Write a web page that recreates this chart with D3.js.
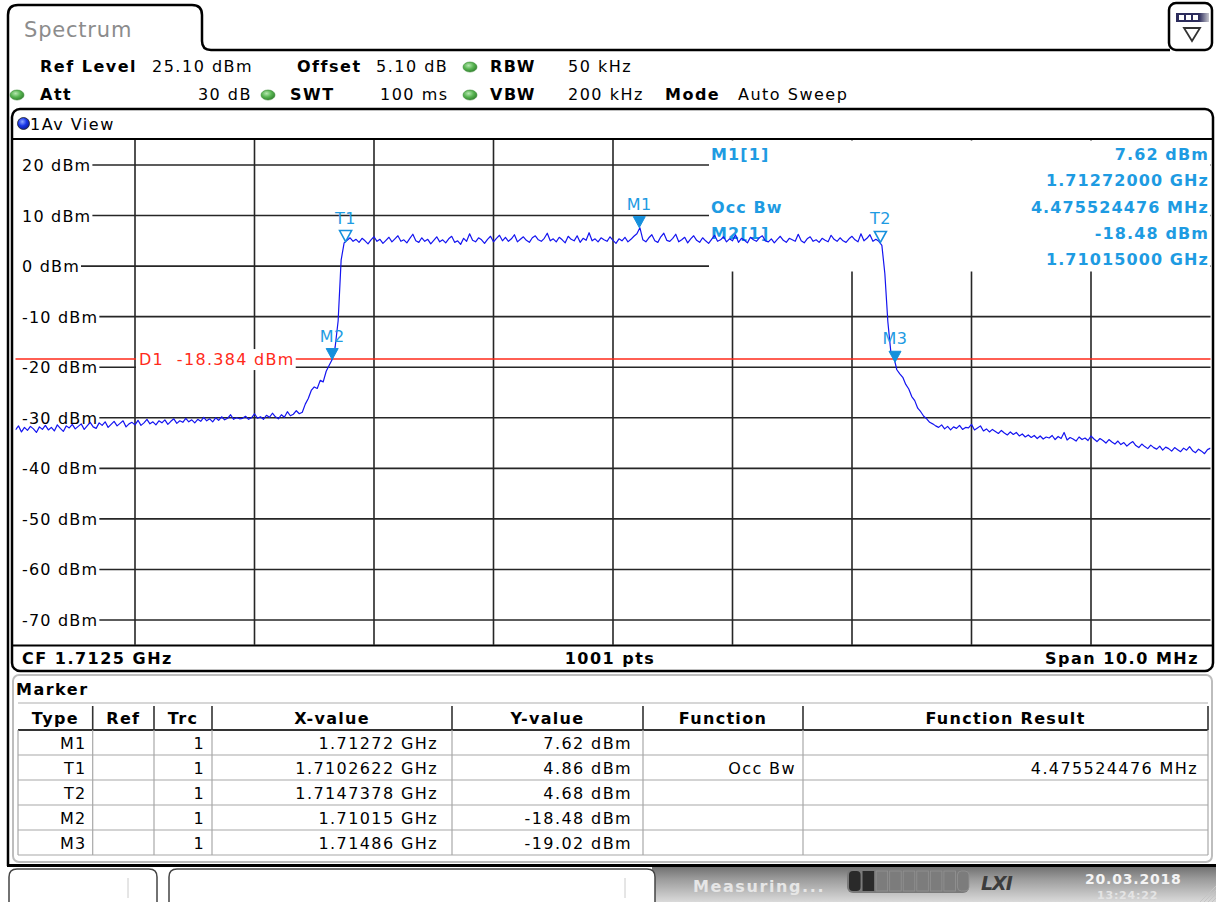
<!DOCTYPE html>
<html><head><meta charset="utf-8">
<script src="https://cdn.jsdelivr.net/npm/d3@7"></script>
<style>
html,body{margin:0;padding:0;background:#fff;overflow:hidden;}
svg text{font-family:"DejaVu Sans",Verdana,sans-serif;}
</style></head><body>
<svg id="c" width="1216" height="902"></svg>
<script>
// ---------------- DATA ----------------
const freqStartGHz = 1.7075;
const freqStopGHz = 1.7175;
const traceStepGHz = 0.000025;
const refLevelDbm = 25.1;
const bottomLevelDbm = -74.9;
const yTickValues = [20, 10, 0, -10, -20, -30, -40, -50, -60, -70];
const xDivisions = [1,2,3,4,5,6,7,8,9];
const displayLineDbm = -18.384;
const occBwMHz = "4.475524476";

// trace (dBm), one value per traceStepGHz starting at freqStartGHz
const traceDbm = [
-32.4,-31.6,-32.8,-31.9,-32.5,-31.7,-32.2,-32.9,-31.8,-32.3,
-31.5,-32.4,-31.9,-32.6,-31.4,-32.1,-32.7,-31.6,-32.0,-31.3,
-32.2,-31.7,-31.2,-32.3,-31.6,-30.9,-31.8,-32.1,-31.0,-31.5,
-30.8,-31.9,-31.3,-30.7,-31.6,-31.1,-30.6,-31.8,-31.2,-30.9,
-31.4,-30.5,-31.5,-31.0,-30.3,-31.2,-30.8,-31.4,-30.6,-31.0,
-30.4,-31.3,-30.7,-30.2,-31.1,-30.6,-30.9,-30.1,-30.8,-30.4,
-31.0,-30.3,-30.7,-29.9,-30.6,-30.2,-30.8,-30.0,-30.5,-29.8,
-30.4,-30.1,-29.4,-30.3,-30.0,-30.2,-30.1,-29.7,-30.3,-30.0,
-29.2,-30.1,-29.8,-30.3,-29.5,-29.9,-29.1,-29.8,-30.2,-29.4,
-29.9,-28.8,-29.6,-29.3,-28.6,-29.2,-28.9,-27.3,-26.2,-24.6,
-23.9,-24.2,-22.6,-22.9,-20.8,-19.6,-18.48,-16.0,-10.8,1.2,
4.6,5.1,5.6,4.9,5.3,4.7,5.5,5.0,4.4,5.2,
5.8,4.9,5.3,4.5,5.1,5.7,4.8,5.4,6.0,4.9,
5.2,4.6,5.5,6.3,5.0,4.7,5.6,4.9,5.3,4.4,
5.1,5.8,4.8,5.2,4.6,5.4,5.9,4.7,5.0,4.3,
5.5,4.9,6.4,5.1,4.8,5.6,5.2,4.5,5.3,5.9,
4.8,5.5,6.1,5.0,5.7,4.9,5.4,6.2,4.8,5.3,
5.8,5.1,4.7,5.6,6.0,5.2,4.9,5.5,6.5,5.0,
5.4,4.8,5.7,5.2,4.6,5.9,5.3,5.0,6.0,4.7,
5.5,5.1,6.6,5.0,5.4,4.8,5.6,5.2,4.9,5.8,
5.1,4.5,5.4,5.0,5.7,4.8,5.3,5.9,6.4,7.6,
5.2,4.8,5.6,6.2,5.0,4.7,5.8,6.5,5.1,4.9,
5.5,6.3,4.8,5.2,5.7,4.6,5.4,6.0,5.1,4.7,
5.6,5.0,4.5,5.3,6.1,4.9,5.2,5.8,4.8,5.4,
5.0,6.2,4.7,5.5,5.1,4.6,5.7,5.2,4.9,5.6,
6.0,5.0,4.8,5.4,4.6,5.3,5.9,5.1,4.7,5.5,
5.2,4.9,6.3,5.0,4.6,5.4,5.8,4.9,5.2,4.7,
5.5,5.1,4.8,6.1,5.3,4.9,5.6,5.0,4.7,5.4,
5.9,5.2,4.8,6.4,5.0,5.5,6.2,4.9,5.3,4.9,
4.1,-1.5,-11.0,-17.0,-18.0,-20.5,-21.3,-22.0,-23.4,-24.3,
-25.8,-26.6,-28.1,-28.8,-29.7,-30.2,-30.9,-31.2,-31.6,-31.9,
-31.4,-32.2,-31.7,-32.4,-31.8,-32.1,-31.5,-32.3,-31.9,-32.0,
-31.3,-32.4,-32.0,-31.6,-32.6,-32.2,-32.8,-32.3,-32.7,-33.1,
-32.5,-33.0,-33.4,-32.8,-33.3,-32.9,-33.6,-33.2,-33.8,-33.4,
-33.9,-33.5,-34.1,-33.6,-34.2,-33.8,-34.0,-33.5,-34.3,-33.7,
-34.1,-32.9,-34.4,-33.9,-34.2,-34.6,-33.8,-34.3,-34.0,-34.5,
-33.6,-34.2,-34.7,-34.1,-34.5,-35.0,-34.3,-34.8,-35.2,-34.6,
-35.3,-34.9,-35.6,-35.1,-34.7,-35.5,-35.9,-35.2,-35.7,-36.1,
-35.4,-35.9,-36.2,-35.6,-36.4,-35.8,-36.1,-36.6,-35.9,-36.3,
-36.7,-36.0,-36.4,-35.7,-36.5,-36.9,-36.2,-36.6,-37.1,-36.3,
-36.0
];

const markerNames  = ["M1", "T1", "T2", "M2", "M3"];
const markerFreqGHz = [1.71272, 1.7102622, 1.7147378, 1.71015, 1.71486];
const markerDbm    = [7.62, 4.86, 4.68, -18.48, -19.02];
const markerFilled = [true, false, false, true, true];
const markerTrc    = [1, 1, 1, 1, 1];
const markerFunction = ["", "Occ Bw", "", "", ""];
const markerFunctionResult = ["", occBwMHz + " MHz", "", "", ""];
const tableHeaders = ["Type", "Ref", "Trc", "X-value", "Y-value", "Function", "Function Result"];

// ---------------- DRAW ----------------
const svg = d3.select("#c");
const LS = "1.5px", LSB = "1.3px";
const FS = 16;
const blueTxt = "#1e9be2";

function txt(g, s, x, yy, o = {}) {
  return g.append("text").attr("x", x).attr("y", yy).text(s)
    .attr("font-size", o.size || FS)
    .attr("font-weight", o.bold ? "bold" : "normal")
    .attr("letter-spacing", o.ls || (o.bold ? LSB : LS))
    .attr("text-anchor", o.anchor || "start")
    .attr("fill", o.fill || "#000")
    .attr("font-style", o.italic ? "italic" : "normal")
    .style("white-space", "pre");
}

// ----- top tab / window frame -----
svg.append("path")
  .attr("d", "M8,866 V15 Q8,5 18,5 H192 Q202,5 202,15 V41 Q202,50 211,50 H1170")
  .attr("fill", "none").attr("stroke", "#000").attr("stroke-width", 2.5);
txt(svg, "Spectrum", 24, 37, {size: 21, fill: "#8c8c8c", ls: "0.8px"});

// top-right icon
svg.append("rect").attr("x", 1169).attr("y", 3).attr("width", 43).attr("height", 47)
  .attr("rx", 7).attr("fill", "#fff").attr("stroke", "#000").attr("stroke-width", 2.5);
const defs = svg.append("defs");
const gi = defs.append("linearGradient").attr("id", "icg");
gi.append("stop").attr("offset", "0").attr("stop-color", "#2c2c5c");
gi.append("stop").attr("offset", "0.7").attr("stop-color", "#2c2c5c");
gi.append("stop").attr("offset", "1").attr("stop-color", "#c8c8d0");
svg.append("rect").attr("x", 1176).attr("y", 13).attr("width", 33).attr("height", 9).attr("fill", "url(#icg)");
[1179, 1186, 1193].forEach(xx => svg.append("rect").attr("x", xx).attr("y", 15).attr("width", 5).attr("height", 5).attr("fill", "#fff"));
svg.append("path").attr("d", "M1184,28 L1200,28 L1192,41 Z").attr("fill", "none").attr("stroke", "#333").attr("stroke-width", 1.8);

// ----- settings header -----
const gg = defs.append("radialGradient").attr("id", "gdot").attr("cx", "40%").attr("cy", "35%").attr("r", "70%");
gg.append("stop").attr("offset", "0").attr("stop-color", "#b6e6b0");
gg.append("stop").attr("offset", "0.5").attr("stop-color", "#58b552");
gg.append("stop").attr("offset", "1").attr("stop-color", "#2f7d2b");
function greenDot(cx, cy) {
  svg.append("ellipse").attr("cx", cx).attr("cy", cy).attr("rx", 7).attr("ry", 5)
    .attr("fill", "url(#gdot)").attr("stroke", "#3c8c38").attr("stroke-width", 0.6);
}
txt(svg, "Ref Level", 40, 72, {bold: true, ls: "1.5px"});
txt(svg, "25.10 dBm", 152, 72);
txt(svg, "Offset", 297, 72, {bold: true, ls: "1.5px"});
txt(svg, "5.10 dB", 376, 72);
greenDot(470, 67);
txt(svg, "RBW", 490, 72, {bold: true, ls: "1.5px"});
txt(svg, "50 kHz", 568, 72);
greenDot(17, 95);
txt(svg, "Att", 40, 100, {bold: true, ls: "1.5px"});
txt(svg, "30 dB", 252, 100, {anchor: "end"});
greenDot(268, 95);
txt(svg, "SWT", 290, 100, {bold: true, ls: "1.5px"});
txt(svg, "100 ms", 380, 100);
greenDot(470, 95);
txt(svg, "VBW", 490, 100, {bold: true, ls: "1.5px"});
txt(svg, "200 kHz", 568, 100);
txt(svg, "Mode", 665, 100, {bold: true, ls: "1.5px"});
txt(svg, "Auto Sweep", 738, 100);

// ----- diagram frame -----
svg.append("rect").attr("x", 12).attr("y", 109).attr("width", 1201).attr("height", 562)
  .attr("rx", 8).attr("fill", "#fff").attr("stroke", "#000").attr("stroke-width", 2.5);
const gb = defs.append("radialGradient").attr("id", "bdot").attr("cx", "40%").attr("cy", "35%").attr("r", "70%");
gb.append("stop").attr("offset", "0").attr("stop-color", "#8fa8ff");
gb.append("stop").attr("offset", "0.5").attr("stop-color", "#1836e8");
gb.append("stop").attr("offset", "1").attr("stop-color", "#0a1a90");
svg.append("circle").attr("cx", 23.5).attr("cy", 123.5).attr("r", 6).attr("fill", "url(#bdot)").attr("stroke", "#222").attr("stroke-width", 0.8);
txt(svg, "1Av View", 30, 130);

const plot = {left: 15.5, right: 1210.5, top: 139.2, bottom: 644.8};
const x = d3.scaleLinear().domain([freqStartGHz, freqStopGHz]).range([plot.left, plot.right]);
const y = d3.scaleLinear().domain([bottomLevelDbm, refLevelDbm]).range([plot.bottom, plot.top]);

// grid
const gridCol = "#262626";
const grid = svg.append("g");
grid.selectAll("line.v").data(xDivisions).join("line")
  .attr("x1", d => x(freqStartGHz + d * (freqStopGHz - freqStartGHz) / 10))
  .attr("x2", d => x(freqStartGHz + d * (freqStopGHz - freqStartGHz) / 10))
  .attr("y1", plot.top).attr("y2", plot.bottom)
  .attr("stroke", gridCol).attr("stroke-width", 1.6);
grid.selectAll("line.h").data(yTickValues).join("line")
  .attr("x1", plot.left).attr("x2", plot.right)
  .attr("y1", d => y(d)).attr("y2", d => y(d))
  .attr("stroke", gridCol).attr("stroke-width", 1.6);

// y labels with white background
const yl = svg.append("g");
yTickValues.forEach(v => {
  const t = txt(yl, v + " dBm", 22, y(v) + 6, {ls: "1.2px"});
  const bb = t.node().getBBox();
  yl.insert("rect", "text").attr("x", 14).attr("y", y(v) - 3).attr("width", bb.x + bb.width - 14 + 1).attr("height", 6).attr("fill", "#fff");
});

// separators
svg.append("line").attr("x1", 12).attr("x2", 1213).attr("y1", 139).attr("y2", 139).attr("stroke", "#000").attr("stroke-width", 2);
svg.append("line").attr("x1", 12).attr("x2", 1213).attr("y1", 645.5).attr("y2", 645.5).attr("stroke", "#000").attr("stroke-width", 2);

// marker info box (top right)
svg.append("rect").attr("x", 709).attr("y", 140.5).attr("width", 501).attr("height", 131).attr("fill", "#fff");
const mi = svg.append("g");
const m1 = 0, m2 = 3;
txt(mi, markerNames[m1] + "[1]", 711, 160, {bold: true, fill: blueTxt, ls: "1.1px"});
txt(mi, "Occ Bw", 711, 213, {bold: true, fill: blueTxt, ls: "1.1px"});
txt(mi, markerNames[m2] + "[1]", 711, 239, {bold: true, fill: blueTxt, ls: "1.1px"});
const rightVals = [
  markerDbm[m1].toFixed(2) + " dBm",
  markerFreqGHz[m1].toFixed(8) + " GHz",
  occBwMHz + " MHz",
  markerDbm[m2].toFixed(2) + " dBm",
  markerFreqGHz[m2].toFixed(8) + " GHz"];
const rightY = [160, 186, 213, 239, 265];
rightVals.forEach((s, i) => txt(mi, s, 1209, rightY[i], {bold: true, fill: blueTxt, anchor: "end", ls: "1.1px"}));

// clip
defs.append("clipPath").attr("id", "pc").append("rect")
  .attr("x", plot.left).attr("y", plot.top).attr("width", plot.right - plot.left).attr("height", plot.bottom - plot.top);

// display line D1
svg.append("line").attr("x1", plot.left).attr("x2", plot.right)
  .attr("y1", y(displayLineDbm)).attr("y2", y(displayLineDbm))
  .attr("stroke", "#ff2a1a").attr("stroke-width", 1.4);
const dg = svg.append("g");
const dt = txt(dg, "D1  " + displayLineDbm.toFixed(3) + " dBm", 139, y(displayLineDbm) + 6, {fill: "#ff2a1a", ls: "1.3px"});
const dbb = dt.node().getBBox();
dg.insert("rect", "text").attr("x", 136).attr("y", dbb.y - 1).attr("width", dbb.width + 4).attr("height", dbb.height + 2).attr("fill", "#fff");

// trace
const line = d3.line().x((d, i) => x(freqStartGHz + i * traceStepGHz)).y(d => y(d));
svg.append("path").datum(traceDbm).attr("clip-path", "url(#pc)")
  .attr("d", line).attr("fill", "none").attr("stroke", "#1414f0").attr("stroke-width", 1.2)
  .attr("stroke-linejoin", "round");

// markers
const mk = svg.append("g");
markerNames.forEach((n, i) => {
  const px = x(markerFreqGHz[i]), py = y(markerDbm[i]);
  mk.append("path").attr("d", `M${px - 6},${py - 11} L${px + 6},${py - 11} L${px},${py} Z`)
    .attr("fill", markerFilled[i] ? "#1590dc" : "#fff").attr("fill-opacity", markerFilled[i] ? 1 : 0)
    .attr("stroke", "#1590dc").attr("stroke-width", markerFilled[i] ? 1 : 1.6);
  txt(mk, n, px, py - 18, {anchor: "middle", fill: blueTxt, ls: "0.5px"});
});

// bottom band
txt(svg, "CF 1.7125 GHz", 22, 664, {bold: true, ls: "1.5px"});
txt(svg, "1001 pts", 610, 664, {bold: true, anchor: "middle", ls: "1.5px"});
txt(svg, "Span 10.0 MHz", 1199, 664, {bold: true, anchor: "end", ls: "1.5px"});

// ----- marker table panel -----
svg.append("rect").attr("x", 13).attr("y", 675).attr("width", 1199).attr("height", 187)
  .attr("rx", 6).attr("fill", "#fff").attr("stroke", "#bdbdbd").attr("stroke-width", 2);
txt(svg, "Marker", 16, 695, {bold: true, ls: "1.5px"});

const colEdges = [18, 92.7, 154, 212, 452, 643, 803, 1208];
const colPad = [6, 6, 7, 14, 11, 7, 10];
const hdrTop = 703, hdrBot = 730, rowH = 25;
const tb = svg.append("g");
tb.append("line").attr("x1", colEdges[0]).attr("x2", colEdges[7]).attr("y1", hdrTop).attr("y2", hdrTop).attr("stroke", "#c8c8c8").attr("stroke-width", 1.5);
tableHeaders.forEach((h, i) => {
  txt(tb, h, (colEdges[i] + colEdges[i + 1]) / 2, 724, {bold: true, anchor: "middle", ls: "1.3px"});
  tb.append("line").attr("x1", colEdges[i + 1]).attr("x2", colEdges[i + 1]).attr("y1", hdrTop + 3).attr("y2", hdrBot)
    .attr("stroke", "#333").attr("stroke-width", 1.6);
});
const nRows = markerNames.length;
for (let r = 0; r <= nRows; r++) {
  tb.append("line").attr("x1", colEdges[0]).attr("x2", colEdges[7])
    .attr("y1", hdrBot + r * rowH).attr("y2", hdrBot + r * rowH)
    .attr("stroke", r === 0 ? "#333" : "#a8a8a8").attr("stroke-width", r === 0 ? 2 : 1.2);
}
colEdges.forEach(cx => tb.append("line").attr("x1", cx).attr("x2", cx).attr("y1", hdrBot).attr("y2", hdrBot + nRows * rowH)
  .attr("stroke", "#a8a8a8").attr("stroke-width", 1.2));
const rowsData = markerNames.map((n, i) => [
  n, "", String(markerTrc[i]), markerFreqGHz[i] + " GHz", markerDbm[i].toFixed(2) + " dBm",
  markerFunction[i], markerFunctionResult[i]]);
rowsData.forEach((row, r) => {
  row.forEach((cell, c) => {
    if (cell) txt(tb, cell, colEdges[c + 1] - colPad[c], hdrBot + r * rowH + 19, {anchor: "end", ls: "1.4px"});
  });
});

// ----- status bar -----
const sg = defs.append("linearGradient").attr("id", "sbar").attr("x1", 0).attr("x2", 0).attr("y1", 0).attr("y2", 1);
sg.append("stop").attr("offset", "0").attr("stop-color", "#6e6e6e");
sg.append("stop").attr("offset", "0.35").attr("stop-color", "#9a9a9a");
sg.append("stop").attr("offset", "1").attr("stop-color", "#dadada");
svg.append("rect").attr("x", 652).attr("y", 866).attr("width", 564).attr("height", 36).attr("fill", "url(#sbar)");
svg.append("line").attr("x1", 7).attr("x2", 1216).attr("y1", 865.5).attr("y2", 865.5).attr("stroke", "#000").attr("stroke-width", 3);
svg.append("path").attr("d", "M9,903 V877 Q9,869 17,869 H149 Q157,869 157,877 V903")
  .attr("fill", "#fff").attr("stroke", "#444").attr("stroke-width", 1.5);
svg.append("path").attr("d", "M169,903 V877 Q169,869 177,869 H647 Q655,869 655,877 V903")
  .attr("fill", "#fff").attr("stroke", "#444").attr("stroke-width", 1.5);
svg.append("line").attr("x1", 128).attr("x2", 128).attr("y1", 878).attr("y2", 898).attr("stroke", "#ccc");
svg.append("line").attr("x1", 625).attr("x2", 625).attr("y1", 878).attr("y2", 898).attr("stroke", "#ccc");
txt(svg, "Measuring...", 693, 892, {bold: true, fill: "#e6e6e6", ls: "1.6px"});
svg.append("rect").attr("x", 847).attr("y", 869).attr("width", 122).attr("height", 24).attr("rx", 6).attr("fill", "#7a7a7a");
const segW = 122 / 9;
for (let k = 0; k < 9; k++) {
  svg.append("rect").attr("x", 849 + k * segW).attr("y", 871).attr("width", segW - 2).attr("height", 20)
    .attr("rx", k === 0 || k === 8 ? 4 : 0)
    .attr("fill", k < 2 ? "#2a2a2a" : "#7c7c7c").attr("stroke", k < 2 ? "none" : "#939393").attr("stroke-width", 0.8);
}
txt(svg, "LXI", 981, 890, {bold: true, italic: true, size: 19, fill: "#3c3c3c", ls: "-1px"});
txt(svg, "20.03.2018", 1085, 884, {bold: true, size: 14, fill: "#f4f4f4", ls: "0.8px"});
txt(svg, "13:24:22", 1097, 899, {bold: true, size: 11, fill: "#e4e4e4", ls: "0.8px"});
for (let k = 0; k < 5; k++) {
  svg.append("line").attr("x1", 1200 + k * 4).attr("y1", 902).attr("x2", 1216).attr("y2", 886 + k * 4)
    .attr("stroke", "#c4c4c4").attr("stroke-width", 1);
}
</script></body></html>
